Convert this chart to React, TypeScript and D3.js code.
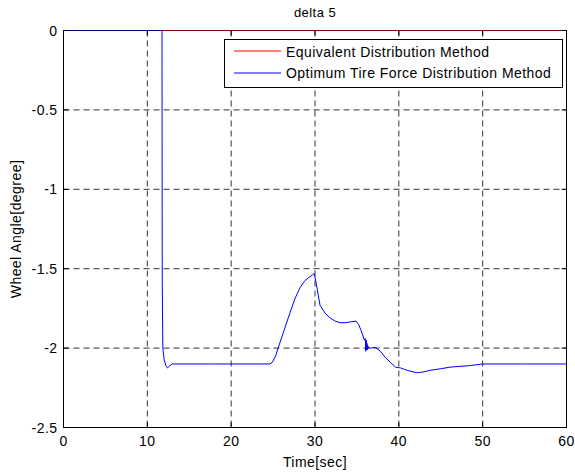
import React from "react";
import * as d3 from "d3";

const W = 575;
const H = 472;
const margin = { left: 63.5, right: 8.5, top: 30.5, bottom: 44.5 };

const titleText = "delta 5";
const xLabel = "Time[sec]";
const yLabel = "Wheel Angle[degree]";
const xTicks = [0, 10, 20, 30, 40, 50, 60];
const yTicks = [0, -0.5, -1, -1.5, -2, -2.5];
const seriesNames = ["Equivalent Distribution Method", "Optimum Tire Force Distribution Method"];
const seriesColors = ["#ff0000", "#0000ff"];

// Equivalent distribution: wheel stays at zero for the whole run
const equivT = [0, 60];
const equivV = [0, 0];

// Optimum tire force distribution
const optT = [
  0, 11.75, 11.78, 11.85, 12.0, 12.2, 12.4, 12.7, 13.0, 18.0, 24.6, 24.9, 25.3, 25.6,
  26.3, 27.0, 27.6, 28.2, 28.8, 29.4, 29.7, 29.9, 30.1, 30.6, 31.2, 31.8, 32.4, 33.0,
  33.6, 34.2, 34.9, 35.2, 35.5, 35.9, 36.0, 36.05, 36.1, 36.15, 36.2, 36.25, 36.3,
  36.4, 36.6, 37.2, 37.8, 38.4, 39.0, 39.6, 40.2, 41.0, 41.7, 42.2, 43.0, 43.7, 45.0,
  46.1, 47.3, 48.5, 50.0, 55.0, 60
];
const optV = [
  0, 0, -1.6, -2.0, -2.07, -2.11, -2.125, -2.11, -2.1, -2.1, -2.1, -2.09, -2.05, -2.0,
  -1.89, -1.78, -1.69, -1.62, -1.575, -1.55, -1.54, -1.53, -1.58, -1.73, -1.78, -1.81, -1.83, -1.84,
  -1.84, -1.835, -1.83, -1.85, -1.89, -1.95, -1.94, -2.02, -1.95, -2.01, -1.97, -2.01, -1.985,
  -2.0, -2.0, -1.995, -2.02, -2.06, -2.09, -2.12, -2.125, -2.14, -2.15, -2.155, -2.15, -2.14, -2.13,
  -2.12, -2.115, -2.11, -2.1, -2.1, -2.1
];

const font = "'Liberation Sans', Arial, sans-serif";
const ls = 0.45;

export default function App() {
  const x = d3.scaleLinear().domain([0, 60]).range([margin.left, W - margin.right]);
  const y = d3.scaleLinear().domain([-2.5, 0]).range([H - margin.bottom, margin.top]);
  const line = d3
    .line<[number, number]>()
    .x((d) => x(d[0]))
    .y((d) => y(d[1]));
  const equivPts = equivT.map((t, i) => [t, equivV[i]] as [number, number]);
  const optPts = optT.map((t, i) => [t, optV[i]] as [number, number]);

  const x0 = margin.left;
  const x1 = W - margin.right;
  const y0 = margin.top;
  const y1 = H - margin.bottom;

  const legX = 224.5;
  const legY = 39.5;
  const legW = 338;
  const legH = 48;

  return (
    <svg
      width={W}
      height={H}
      style={{ position: "absolute", left: 0, top: 0, background: "#fff" }}
      fontFamily={font}
    >
      <rect x={0} y={0} width={W} height={H} fill="#fff" />
      {/* grid */}
      {xTicks.slice(1, -1).map((t) => (
        <line key={"gx" + t} x1={x(t)} x2={x(t)} y1={y0} y2={y1} stroke="#000" strokeDasharray="6,4" strokeWidth={1} opacity={0.8} />
      ))}
      {yTicks.slice(1, -1).map((t) => (
        <line key={"gy" + t} x1={x0} x2={x1} y1={y(t)} y2={y(t)} stroke="#000" strokeDasharray="6,4" strokeWidth={1} opacity={0.8} />
      ))}
      {/* axes box */}
      <rect x={x0} y={y0} width={x1 - x0} height={y1 - y0} fill="none" stroke="#000" strokeWidth={1} />
      {/* series */}
      <path d={line(equivPts) || ""} fill="none" stroke={seriesColors[0]} strokeWidth={1} />
      <path d={line(optPts) || ""} fill="none" stroke={seriesColors[1]} strokeWidth={1} />
      {/* top edge blends over the series sitting on zero */}
      <line x1={x0} x2={x1} y1={y0} y2={y0} stroke="#000" strokeWidth={1} opacity={0.5} />
      {/* tick marks */}
      {xTicks.map((t) => (
        <g key={"tx" + t}>
          <line x1={x(t)} x2={x(t)} y1={y1} y2={y1 - 5} stroke="#000" />
          <line x1={x(t)} x2={x(t)} y1={y0} y2={y0 + 5} stroke="#000" />
          <text x={x(t)} y={y1 + 18} textAnchor="middle" fontSize={14} letterSpacing={ls}>{t}</text>
        </g>
      ))}
      {yTicks.map((t) => (
        <g key={"ty" + t}>
          <line x1={x0} x2={x0 + 5} y1={y(t)} y2={y(t)} stroke="#000" />
          <line x1={x1} x2={x1 - 5} y1={y(t)} y2={y(t)} stroke="#000" />
          <text x={x0 - 6} y={y(t) + 5} textAnchor="end" fontSize={14} letterSpacing={ls}>{t === 0 ? "0" : String(t)}</text>
        </g>
      ))}
      {/* labels */}
      <text x={(x0 + x1) / 2} y={17} textAnchor="middle" fontSize={13} letterSpacing={ls}>{titleText}</text>
      <text x={(x0 + x1) / 2} y={H - 5} textAnchor="middle" fontSize={14} letterSpacing={ls}>{xLabel}</text>
      <text transform={`translate(21,${(y0 + y1) / 2}) rotate(-90)`} textAnchor="middle" fontSize={14} letterSpacing={ls}>{yLabel}</text>
      {/* legend */}
      <rect x={legX} y={legY} width={legW} height={legH} fill="#fff" stroke="#000" strokeWidth={1} />
      {seriesNames.map((name, i) => (
        <g key={name}>
          <line x1={234} x2={281} y1={51 + i * 22} y2={51 + i * 22} stroke={seriesColors[i]} strokeWidth={1.2} />
          <text x={286} y={56.5 + i * 21.5} fontSize={14} letterSpacing={ls}>{name}</text>
        </g>
      ))}
    </svg>
  );
}
